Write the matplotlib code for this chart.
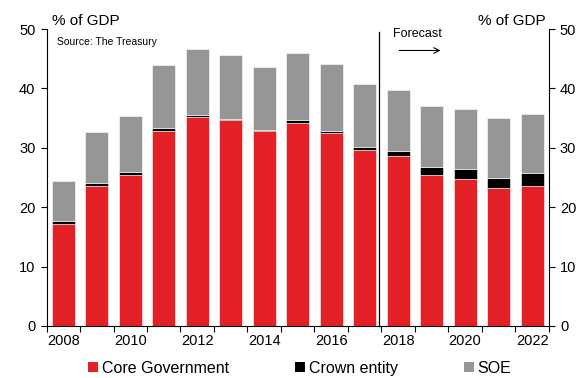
import matplotlib
matplotlib.use("Agg")
import matplotlib.pyplot as plt
from matplotlib.patches import Patch
import numpy as np

plt.rcParams['font.family'] = ['Liberation Sans', 'DejaVu Sans']

years = list(range(2008, 2023))
core_government = [17.1, 23.5, 25.4, 32.9, 35.2, 34.7, 32.8, 34.2, 32.5, 29.7,
                   28.7, 25.4, 24.7, 23.2, 23.6]
crown_entity = [0.6, 0.6, 0.5, 0.5, 0.3, 0.2, 0.2, 0.5, 0.3, 0.4,
                0.7, 1.3, 1.7, 1.8, 2.1]
soe = [6.7, 8.6, 9.5, 10.5, 11.2, 10.8, 10.7, 11.2, 11.4, 10.6,
       10.4, 10.3, 10.1, 10.1, 10.0]
year_labels = ['2008', '2010', '2012', '2014', '2016', '2018', '2020', '2022']
first_forecast_year = 2018

RED = '#E32026'
BLACK = '#000000'
GREY = '#969696'

fig = plt.figure(figsize=(5.82, 3.78), dpi=100)
ax = fig.add_axes([0.080, 0.1376, 0.863, 0.7854])

x = np.arange(len(years))
core = np.array(core_government)
crown = np.array(crown_entity)
w = 0.69
ax.bar(x, core, width=w, color=RED, edgecolor='white', linewidth=0.4)
ax.bar(x, crown, width=w, bottom=core, color=BLACK, edgecolor='white', linewidth=0.4)
ax.bar(x, soe, width=w, bottom=core + crown, color=GREY, edgecolor='white', linewidth=0.4)

ax.set_xlim(-0.5, len(years) - 0.5)
ax.set_ylim(0, 50)
ax.set_yticks(np.arange(0, 51, 10))

# category boundary ticks, labels on every other year
ax.set_xticks(np.arange(-0.5, len(years)), minor=False)
ax.set_xticklabels([])
label_pos = [years.index(int(y)) for y in year_labels]
ax.set_xticks(label_pos, minor=True)
ax.set_xticklabels(year_labels, minor=True)
ax.tick_params(axis='x', which='major', length=4, direction='out', width=0.8)
ax.tick_params(axis='x', which='minor', length=0, pad=6, labelsize=10.5)
ax.tick_params(axis='y', which='major', length=4, direction='out', width=0.8,
               labelsize=10.5, right=True, labelright=True, pad=4)

ax.spines['top'].set_visible(False)
for s in ['left', 'right', 'bottom']:
    ax.spines[s].set_linewidth(0.8)

# forecast divider
fx = years.index(first_forecast_year) - 0.5
ax.plot([fx - 0.08, fx - 0.08], [0, 49.5], color='black', linewidth=0.9, clip_on=False)
ax.text(fx + 0.35, 49.1, 'Forecast', fontsize=9, ha='left', va='center')
ax.annotate('', xy=(fx + 1.85, 46.4), xytext=(fx + 0.45, 46.4),
            arrowprops=dict(arrowstyle='->', color='black', lw=0.8))

fig.text(0.089, 0.945, '% of GDP', fontsize=11, ha='left', va='center')
fig.text(0.937, 0.945, '% of GDP', fontsize=11, ha='right', va='center')
ax.text(0.02, 0.955, 'Source: The Treasury', transform=ax.transAxes,
        fontsize=7.5, ha='left', va='center')

handles = [Patch(facecolor=RED, label='Core Government'),
           Patch(facecolor=BLACK, label='Crown entity'),
           Patch(facecolor=GREY, label='SOE')]
fig.legend(handles=handles, loc='center', bbox_to_anchor=(0.515, 0.025), ncol=3,
           frameon=False, fontsize=11.5, handlelength=0.6, handleheight=0.6,
           handletextpad=0.25, columnspacing=4.15, borderaxespad=0)

fig.savefig('out.png', dpi=100)
